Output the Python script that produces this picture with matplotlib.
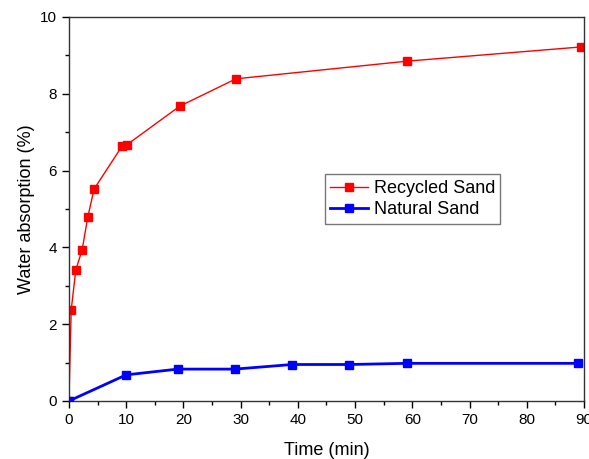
import matplotlib
matplotlib.use("Agg")
import matplotlib.pyplot as plt
from matplotlib.ticker import MultipleLocator

plt.rcParams['font.family'] = ['Liberation Sans', 'DejaVu Sans']

recycled_t = [0, 0.4, 1.2, 2.3, 3.3, 4.4, 9.3, 10.1, 19.4, 29.2, 59.1, 89.5]
recycled_w = [0, 2.37, 3.41, 3.93, 4.79, 5.52, 6.64, 6.67, 7.68, 8.39, 8.85, 9.22]
natural_t = [0, 10, 19, 29, 39, 49, 59, 89]
natural_w = [0, 0.68, 0.83, 0.83, 0.95, 0.95, 0.98, 0.98]

fig = plt.figure(figsize=(5.89, 4.59), dpi=100)
ax = fig.add_axes([0.117, 0.1264, 0.8745, 0.8366])

ax.plot(recycled_t, recycled_w, color='#ff0000', lw=1.0, marker='s', ms=6,
        label='Recycled Sand', zorder=2)
ax.plot(natural_t, natural_w, color='#0000ff', lw=2.0, marker='s', ms=6,
        label='Natural Sand', zorder=3)

ax.set_xlim(0, 90)
ax.set_ylim(0, 10)
ax.xaxis.set_major_locator(MultipleLocator(10))
ax.xaxis.set_minor_locator(MultipleLocator(5))
ax.yaxis.set_major_locator(MultipleLocator(2))
ax.yaxis.set_minor_locator(MultipleLocator(1))
ax.tick_params(which='major', direction='out', length=5, width=1, labelsize=11, colors='black')
ax.tick_params(which='minor', direction='out', length=3, width=1)
for s in ax.spines.values():
    s.set_linewidth(1.0)
    s.set_color('#333333')

ax.set_xlabel('Time (min)', fontsize=13, labelpad=11)
ax.set_ylabel('Water absorption (%)', fontsize=13, labelpad=4)

leg = ax.legend(loc='upper left', bbox_to_anchor=(0.497, 0.59), fontsize=13,
                frameon=True, fancybox=False, edgecolor='#555555',
                handlelength=2.1, borderpad=0.3, labelspacing=0.25, handletextpad=0.3,
                borderaxespad=0)
leg.get_frame().set_linewidth(1.0)

fig.savefig('out.png', dpi=100)
